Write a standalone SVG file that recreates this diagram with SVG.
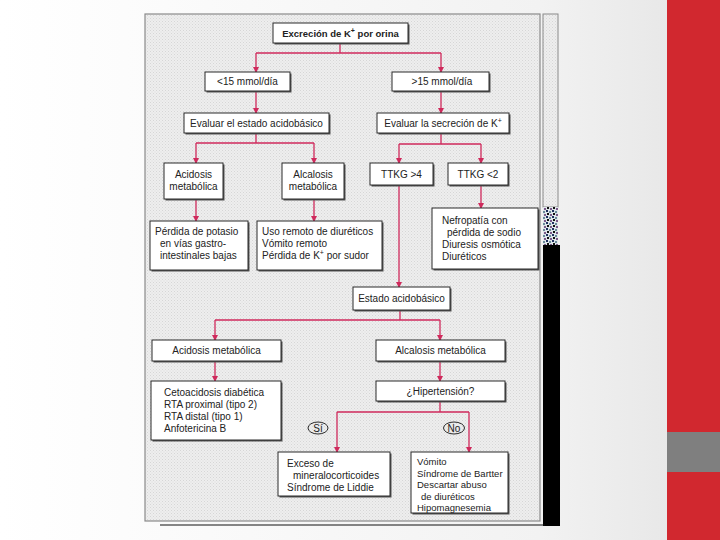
<svg xmlns="http://www.w3.org/2000/svg" width="720" height="540" viewBox="0 0 720 540">
<defs>
<linearGradient id="bg" x1="0" y1="0" x2="1" y2="0">
<stop offset="0" stop-color="#ffffff"/>
<stop offset="0.75" stop-color="#f2f2f2"/>
<stop offset="1" stop-color="#e4e4e4"/>
</linearGradient>
<pattern id="dots" width="3" height="3" patternUnits="userSpaceOnUse">
<rect width="3" height="3" fill="#eeeeee"/>
<rect width="1" height="1" fill="#d6d6d6"/>
<rect x="1.5" y="1.5" width="1" height="1" fill="#dddddd"/>
</pattern>
<pattern id="noise" width="6" height="6" patternUnits="userSpaceOnUse">
<rect width="6" height="6" fill="#dfe6ea"/>
<rect width="2" height="2" fill="#203060"/>
<rect x="3" y="1" width="2" height="2" fill="#6a8a9a"/>
<rect x="1" y="3" width="2" height="2" fill="#101010"/>
<rect x="4" y="4" width="2" height="2" fill="#7a5a8a"/>
</pattern>
<marker id="arr" markerWidth="6" markerHeight="6" refX="5" refY="3" orient="auto" markerUnits="userSpaceOnUse">
<path d="M0,0 L6,3 L0,6 z" fill="#cf2a5c"/>
</marker>
<style>
.box{fill:#ffffff;stroke:#2a2a2a;stroke-width:1}
.sh{fill:#555555}
.t{font-family:"Liberation Sans",Arial,sans-serif;font-size:10px;fill:#222222}
.s{font-size:9.5px}
.c{text-anchor:middle}
.b{font-weight:bold;font-size:9.5px}
.sup{font-size:7px}
.ln{fill:none;stroke:#cf2a5c;stroke-width:1.3}
.ar{marker-end:url(#arr)}
.lab{fill:none;stroke:#2a2a2a;stroke-width:1}
</style>
</defs>
<rect width="720" height="540" fill="url(#bg)"/>
<rect x="667" y="0" width="53" height="540" fill="#d1282f"/>
<rect x="667" y="432" width="53" height="40" fill="#7f7f7f"/>
<g id="frame">
<rect x="145" y="14" width="395" height="507" fill="url(#dots)" stroke="#8a8a8a" stroke-width="1.2"/>
<rect x="543" y="14" width="15" height="193" fill="url(#dots)" stroke="#8a8a8a" stroke-width="1"/>
<rect x="543" y="207" width="15" height="38" fill="url(#noise)"/>
<rect x="543" y="245" width="17" height="281" fill="#000000"/>
<line x1="160" y1="525" x2="545" y2="525" stroke="#111111" stroke-width="1.2"/>
</g>
<g id="connectors">
<path class="ln" d="M340,43 V53 M256,53 H441"/>
<path class="ln ar" d="M256,53 V72"/>
<path class="ln ar" d="M441,53 V72"/>
<path class="ln ar" d="M256,92 V113"/>
<path class="ln ar" d="M441,92 V113"/>
<path class="ln" d="M256,134 V143 M196,143 H314"/>
<path class="ln ar" d="M196,143 V163"/>
<path class="ln ar" d="M314,143 V163"/>
<path class="ln" d="M441,134 V144 M399,144 H481"/>
<path class="ln ar" d="M399,144 V163"/>
<path class="ln ar" d="M481,144 V163"/>
<path class="ln ar" d="M196,200 V221"/>
<path class="ln ar" d="M314,200 V221"/>
<path class="ln ar" d="M481,186 V208"/>
<path class="ln ar" d="M399,186 V287"/>
<path class="ln" d="M400,311 V320 M215,320 H440"/>
<path class="ln ar" d="M215,320 V340"/>
<path class="ln ar" d="M440,320 V340"/>
<path class="ln ar" d="M215,362 V381"/>
<path class="ln ar" d="M440,362 V381"/>
<path class="ln" d="M440,402 V412 M337,412 H469"/>
<path class="ln ar" d="M337,412 V452"/>
<path class="ln ar" d="M469,412 V452"/>
</g>
<g id="n1"><rect class="sh" x="274.5" y="24.5" width="135" height="20"/><rect class="box" x="273" y="23" width="135" height="20"/><text class="t c b" x="340.5" y="37">Excreción de K<tspan class="sup" dy="-4">+</tspan><tspan dy="4"> por orina</tspan></text></g>
<g id="n2"><rect class="sh" x="206.5" y="73.5" width="85" height="19"/><rect class="box" x="205" y="72" width="85" height="19"/><text class="t c" x="247.5" y="85">&lt;15 mmol/día</text></g>
<g id="n3"><rect class="sh" x="393.5" y="73.5" width="97" height="19"/><rect class="box" x="392" y="72" width="97" height="19"/><text class="t c" x="442" y="85">&gt;15 mmol/día</text></g>
<g id="n4"><rect class="sh" x="185.5" y="114.5" width="145" height="20"/><rect class="box" x="184" y="113" width="145" height="20"/><text class="t c" x="256.5" y="126.5">Evaluar el estado acidobásico</text></g>
<g id="n5"><rect class="sh" x="378.5" y="114.5" width="132" height="20"/><rect class="box" x="377" y="113" width="132" height="20"/><text class="t c" x="443" y="126.5">Evaluar la secreción de K<tspan class="sup" dy="-4">+</tspan></text></g>
<g id="n6"><rect class="sh" x="165.5" y="164.5" width="59" height="36"/><rect class="box" x="164" y="163" width="59" height="36"/><text class="t c" x="193.5" y="178">Acidosis</text><text class="t c" x="193.5" y="190">metabólica</text></g>
<g id="n7"><rect class="sh" x="283.5" y="164.5" width="62" height="36"/><rect class="box" x="282" y="163" width="62" height="36"/><text class="t c" x="313" y="178">Alcalosis</text><text class="t c" x="313" y="190">metabólica</text></g>
<g id="n8"><rect class="sh" x="371.5" y="164.5" width="63" height="22"/><rect class="box" x="370" y="163" width="63" height="22"/><text class="t c" x="401.5" y="177.5">TTKG &gt;4</text></g>
<g id="n9"><rect class="sh" x="449.5" y="164.5" width="60" height="22"/><rect class="box" x="448" y="163" width="60" height="22"/><text class="t c" x="478" y="177.5">TTKG &lt;2</text></g>
<g id="n10"><rect class="sh" x="151.5" y="222.5" width="98" height="49"/><rect class="box" x="150" y="221" width="98" height="49"/><text class="t" x="155" y="235">Pérdida de potasio</text><text class="t" x="160" y="247">en vías gastro-</text><text class="t" x="160" y="259">intestinales bajas</text></g>
<g id="n11"><rect class="sh" x="258.5" y="222.5" width="125" height="49"/><rect class="box" x="257" y="221" width="125" height="49"/><text class="t" x="262" y="235">Uso remoto de diuréticos</text><text class="t" x="262" y="247">Vómito remoto</text><text class="t" x="262" y="259">Pérdida de K<tspan class="sup" dy="-4">+</tspan><tspan dy="4"> por sudor</tspan></text></g>
<g id="n12"><rect class="sh" x="433.5" y="209.5" width="106" height="61"/><rect class="box" x="432" y="208" width="106" height="61"/><text class="t" x="442" y="224">Nefropatía con</text><text class="t" x="447" y="236">pérdida de sodio</text><text class="t" x="442" y="248">Diuresis osmótica</text><text class="t" x="442" y="260">Diuréticos</text></g>
<g id="n13"><rect class="sh" x="354.5" y="288.5" width="97" height="23"/><rect class="box" x="353" y="287" width="97" height="23"/><text class="t c" x="401.5" y="301.5">Estado acidobásico</text></g>
<g id="n14"><rect class="sh" x="153.5" y="341.5" width="129" height="21"/><rect class="box" x="152" y="340" width="129" height="21"/><text class="t c" x="216.5" y="354">Acidosis metabólica</text></g>
<g id="n15"><rect class="sh" x="377.5" y="341.5" width="129" height="21"/><rect class="box" x="376" y="340" width="129" height="21"/><text class="t c" x="440.5" y="354">Alcalosis metabólica</text></g>
<g id="n16"><rect class="sh" x="152.5" y="382.5" width="130" height="59"/><rect class="box" x="151" y="381" width="130" height="59"/><text class="t" x="164" y="396">Cetoacidosis diabética</text><text class="t" x="164" y="408">RTA proximal (tipo 2)</text><text class="t" x="164" y="420">RTA distal (tipo 1)</text><text class="t" x="164" y="432">Anfotericina B</text></g>
<g id="n17"><rect class="sh" x="377.5" y="382.5" width="129" height="20"/><rect class="box" x="376" y="381" width="129" height="20"/><text class="t c" x="440.5" y="394.5">¿Hipertensión?</text></g>
<g id="lSi"><ellipse class="lab" cx="318" cy="428" rx="10" ry="6"/><text class="t c" x="318" y="431.5">Sí</text></g>
<g id="lNo"><ellipse class="lab" cx="454" cy="428" rx="10.5" ry="6"/><text class="t c" x="454" y="431.5">No</text></g>
<g id="n18"><rect class="sh" x="279.5" y="453.5" width="112" height="44"/><rect class="box" x="278" y="452" width="112" height="44"/><text class="t" x="287" y="467">Exceso de</text><text class="t" x="293" y="479">mineralocorticoides</text><text class="t" x="287" y="491">Síndrome de Liddie</text></g>
<g id="n19"><rect class="sh" x="412.5" y="453.5" width="97" height="61"/><rect class="box" x="411" y="452" width="97" height="61"/><text class="t s" x="417" y="465">Vómito</text><text class="t s" x="417" y="476.5">Síndrome de Bartter</text><text class="t s" x="417" y="488">Descartar abuso</text><text class="t s" x="421" y="499.5">de diuréticos</text><text class="t s" x="417" y="511">Hipomagnesemia</text></g>
</svg>
